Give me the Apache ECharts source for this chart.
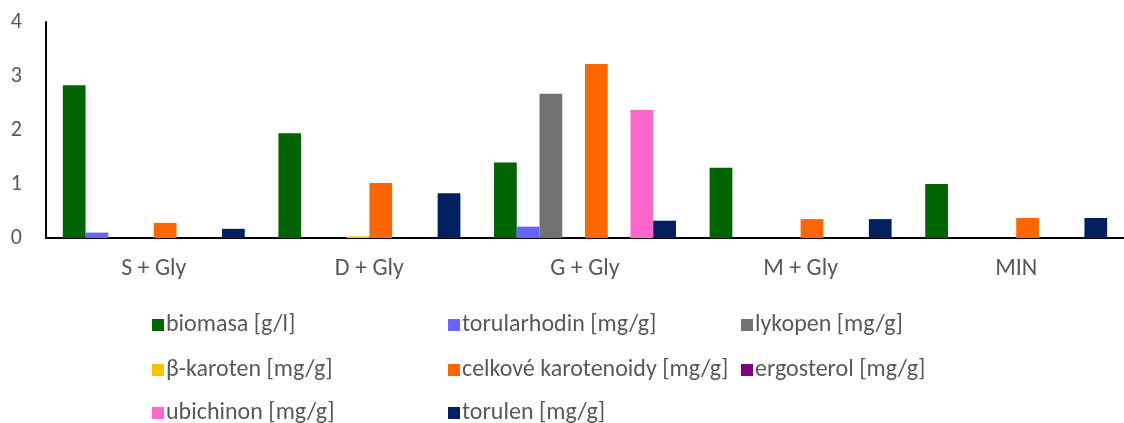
<!DOCTYPE html>
<html>
<head>
<meta charset="utf-8">
<script src="https://cdn.jsdelivr.net/npm/echarts@6/dist/echarts.min.js"></script>
<style>
  html, body { margin: 0; padding: 0; background: #fff; }
  #main { width: 1124px; height: 423px; }
</style>
</head>
<body>
<div id="main"></div>
<script>
  // kategorie a hodnoty
  let categories = ['S + Gly', 'D + Gly', 'G + Gly', 'M + Gly', 'MIN'];

  let biomasa = [2.83, 1.94, 1.40, 1.30, 1.00];
  let torularhodin = [0.10, 0, 0.21, 0, 0];
  let lykopen = [0, 0, 2.67, 0, 0];
  let betaKaroten = [0, 0.03, 0, 0, 0];
  let celkoveKarotenoidy = [0.28, 1.02, 3.22, 0.35, 0.37];
  let ergosterol = [0, 0, 0, 0, 0];
  let ubichinon = [0, 0, 2.37, 0, 0];
  let torulen = [0.17, 0.83, 0.32, 0.35, 0.37];

  let yTicks = [0, 1, 2, 3, 4];

  let seriesDefs = [
    { name: 'biomasa [g/l]', data: biomasa, color: '#006400' },
    { name: 'torularhodin [mg/g]', data: torularhodin, color: '#6666FF' },
    { name: 'lykopen [mg/g]', data: lykopen, color: '#767171' },
    { name: 'β-karoten [mg/g]', data: betaKaroten, color: '#FFC000' },
    { name: 'celkové karotenoidy [mg/g]', data: celkoveKarotenoidy, color: '#FF6600' },
    { name: 'ergosterol [mg/g]', data: ergosterol, color: '#800080' },
    { name: 'ubichinon [mg/g]', data: ubichinon, color: '#FF66CC' },
    { name: 'torulen [mg/g]', data: torulen, color: '#002060' }
  ];

  let font = 'Carlito, "Open Sans", sans-serif';
  let textColor = '#595959';

  // legenda po řádcích ve třech sloupcích (jako v Excelu)
  let legendCols = [147, 443, 736];
  let legendRows = [308, 353, 396];

  let legends = seriesDefs.map(function (s, i) {
    return {
      left: legendCols[i % 3],
      top: legendRows[Math.floor(i / 3)],
      itemWidth: 12,
      itemHeight: 12,
      itemGap: 0,
      icon: 'rect',
      selectedMode: false,
      data: [s.name],
      textStyle: { color: textColor, fontSize: 24, fontFamily: font, padding: [0, 0, 0, -3] }
    };
  });

  let chart = echarts.init(document.getElementById('main'));

  let option = {
    animation: false,
    backgroundColor: '#fff',
    grid: { left: 46, right: -12, top: 22, bottom: 185 },
    legend: legends,
    xAxis: {
      type: 'category',
      data: categories,
      axisLine: { lineStyle: { color: '#000', width: 2 } },
      axisTick: { show: false },
      axisLabel: { color: textColor, fontSize: 24, fontFamily: font, margin: 19 }
    },
    yAxis: {
      type: 'value',
      min: yTicks[0],
      max: yTicks[yTicks.length - 1],
      interval: 1,
      axisLine: { show: true, lineStyle: { color: '#000', width: 2 } },
      axisTick: { show: false },
      splitLine: { show: false },
      axisLabel: { color: textColor, fontSize: 22, fontFamily: font, margin: 24 }
    },
    series: seriesDefs.map(function (s) {
      return {
        name: s.name,
        type: 'bar',
        data: s.data,
        barGap: '0%',
        barCategoryGap: '15.6%',
        itemStyle: { color: s.color }
      };
    })
  };

  chart.setOption(option);
</script>
</body>
</html>
